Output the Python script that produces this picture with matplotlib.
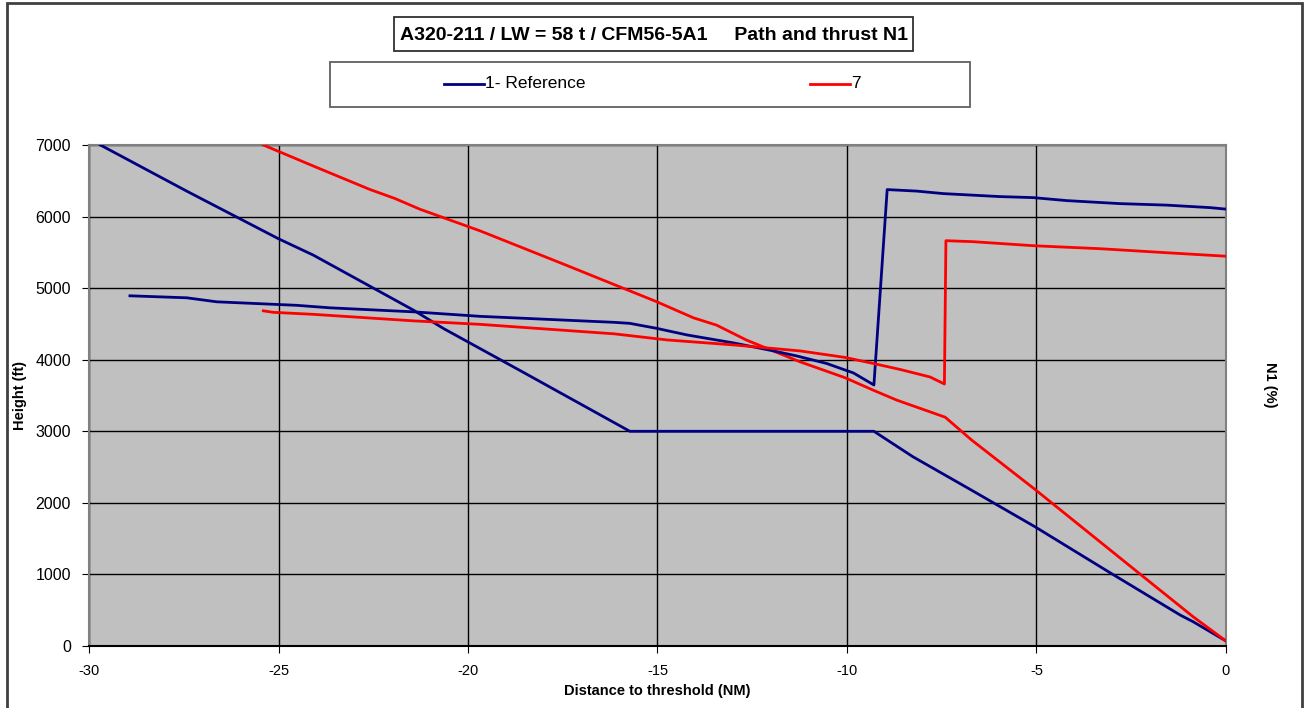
import matplotlib.pyplot as plt
from matplotlib.patches import Rectangle

plt.rcParams['font.family'] = ['Liberation Sans', 'DejaVu Sans']

# Flight path (ft) against distance to threshold (NM)
ref_dist = [-29.7, -27.42, -25.0, -24.08, -21.44, -20.65, -18.63, -15.73, -9.29,
            -8.26, -6.75, -5.04, -3.06, -1.21, -0.87, 0.0]
ref_height = [7000, 6355, 5690, 5461, 4693, 4437, 3850, 3000, 3000,
              2644, 2188, 1666, 1024, 433, 340, 70]

c7_dist = [-25.4, -23.99, -22.59, -21.93, -21.27, -19.68, -17.5, -15.02, -14.05,
           -13.44, -12.65, -11.24, -10.05, -9.31, -8.69, -7.41, -6.71, -5.04,
           -2.27, -0.87, 0.0]
c7_height = [7000, 6686, 6379, 6253, 6103, 5800, 5340, 4810, 4585,
             4483, 4274, 3971, 3748, 3575, 3436, 3197, 2877, 2188,
             1006, 410, 70]

# Thrust N1 (%)
ref_n1_dist = [-28.92, -27.42, -26.63, -24.52, -23.64, -21.44, -19.68, -16.13, -15.73,
               -15.02, -14.23, -13.0, -11.94, -11.33, -10.54, -9.83, -9.29, -8.94,
               -8.16, -7.46, -5.96, -5.09, -4.2, -2.8, -1.57, -0.42, 0.0]
ref_n1 = [69.9, 69.5, 68.7, 68.0, 67.5, 66.7, 65.8, 64.6, 64.4,
          63.4, 62.1, 60.5, 58.9, 57.9, 56.4, 54.5, 52.1, 91.1,
          90.8, 90.3, 89.7, 89.5, 88.9, 88.3, 88.0, 87.5, 87.2]

c7_n1_dist = [-25.4, -25.14, -24.08, -21.44, -19.68, -16.13, -14.76, -13.0, -11.24,
              -10.05, -9.31, -8.6, -7.81, -7.43, -7.39, -6.67, -5.09, -3.32,
              -1.57, 0.0]
c7_n1 = [66.9, 66.6, 66.2, 64.9, 64.2, 62.3, 61.1, 60.1, 58.9,
         57.6, 56.4, 55.2, 53.7, 52.3, 80.9, 80.7, 79.9, 79.3,
         78.5, 77.8]

x_ticks = [-30, -25, -20, -15, -10, -5, 0]
y_ticks = [0, 1000, 2000, 3000, 4000, 5000, 6000, 7000]

navy = '#000080'
red = '#ff0000'

fig = plt.figure(figsize=(13.08, 7.08), dpi=100)
ax = fig.add_axes([89 / 1308, 1 - 646 / 708, (1226 - 89) / 1308, (646 - 145) / 708])
ax.set_facecolor('#c0c0c0')

ax.plot(ref_dist, ref_height, color=navy, lw=2, zorder=3)
ax.plot(c7_dist, c7_height, color=red, lw=2, zorder=3)

# N1 goes on a hidden secondary scale
ax2 = ax.twinx()
ax2.plot(ref_n1_dist, ref_n1, color=navy, lw=2)
ax2.plot(c7_n1_dist, c7_n1, color=red, lw=2)
ax2.set_ylim(0, 100)
ax2.set_yticks([])
for s in ax2.spines.values():
    s.set_visible(False)

ax.set_xlim(-30, 0)
ax.set_ylim(0, 7000)
ax.set_xticks(x_ticks)
ax.set_yticks(y_ticks)
ax.set_xticklabels([str(v) for v in x_ticks], fontsize=10.5)
ax.set_yticklabels([str(v) for v in y_ticks], fontsize=11.5)
ax.tick_params(direction='out', length=5, color='black', pad=8)
ax.grid(True, color='black', lw=1)
ax.set_axisbelow(True)
for side in ['top', 'left', 'right']:
    ax.spines[side].set_color('#808080')
    ax.spines[side].set_linewidth(1.5)
ax.spines['bottom'].set_color('black')
ax.spines['bottom'].set_linewidth(1.5)

ax.set_xlabel('Distance to threshold (NM)', fontsize=10.5, fontweight='bold', labelpad=4)
ax.set_ylabel('Height (ft)', fontsize=10.5, fontweight='bold', labelpad=6)
fig.text(1270 / 1308, 1 - 385 / 708, 'N1 (%)', rotation=270, fontsize=10.5,
         fontweight='bold', ha='center', va='center')

# Title box
fig.text(654 / 1308, 1 - 35 / 708, 'A320-211 / LW = 58 t / CFM56-5A1     Path and thrust N1',
         fontsize=14, fontweight='bold', ha='center', va='center')
fig.add_artist(Rectangle((394 / 1308, 1 - 51 / 708), (913 - 394) / 1308, 34 / 708,
                         transform=fig.transFigure, fill=False, ec='#303030', lw=1.3))

# Legend box
fig.add_artist(Rectangle((330 / 1308, 1 - 107 / 708), (970 - 330) / 1308, 45 / 708,
                         transform=fig.transFigure, fill=False, ec='#606060', lw=1.3))
ly = 1 - 84 / 708
fig.add_artist(plt.Line2D([444 / 1308, 484 / 1308], [ly, ly], color=navy, lw=2,
                          transform=fig.transFigure))
fig.text(485 / 1308, ly, '1- Reference', fontsize=12.5, ha='left', va='center')
fig.add_artist(plt.Line2D([810 / 1308, 850 / 1308], [ly, ly], color=red, lw=2,
                          transform=fig.transFigure))
fig.text(851 / 1308, ly, '7', fontsize=12.5, ha='left', va='center')

# Chart frame
fig.add_artist(Rectangle((7 / 1308, -0.05), (1302 - 7) / 1308, 1.05 - 3 / 708,
                         transform=fig.transFigure, fill=False, ec='#404040', lw=2))

fig.savefig('out.png', dpi=100, facecolor='white')
